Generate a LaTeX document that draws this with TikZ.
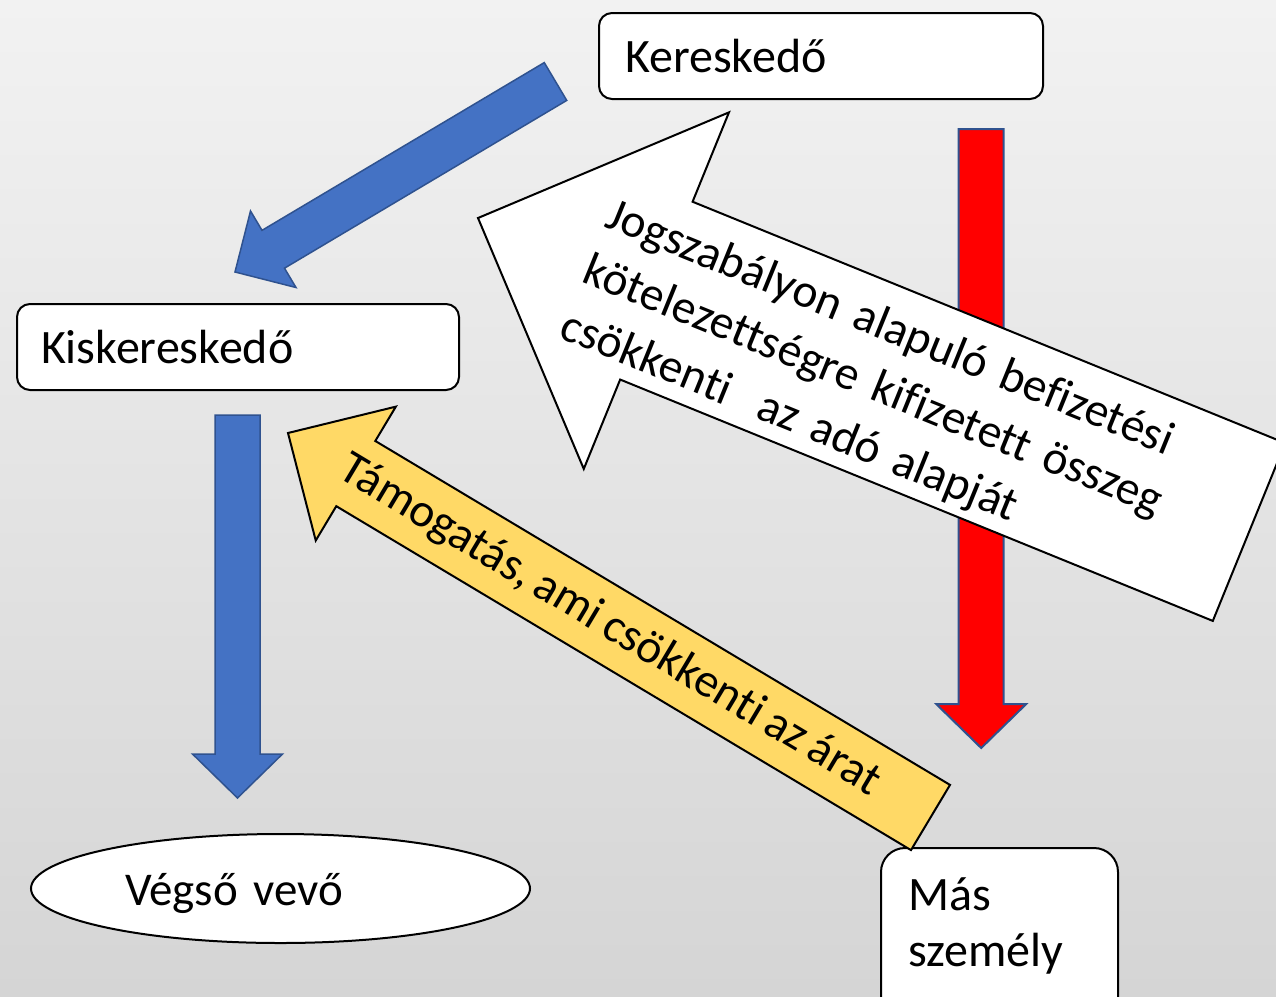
\documentclass[tikz,border=0pt]{standalone}
\usepackage{fontspec}
\setmainfont{Carlito}[Ligatures=NoCommon, WordSpace=0.8]
\usetikzlibrary{calc,shapes.geometric}

\definecolor{bgtop}{RGB}{242,242,242}
\definecolor{bgbot}{RGB}{213,213,213}
\definecolor{arrblue}{RGB}{68,114,196}
\definecolor{arredge}{RGB}{47,82,143}
\definecolor{arrred}{RGB}{255,0,0}
\definecolor{arryellow}{RGB}{255,217,102}

% Block arrow: #1 style, #2 tail centre, #3 tip, #4 half shaft width,
% #5 half head width, #6 head length
\newcommand\blockarrow[6]{%
  \coordinate (#3-base) at ($(#3)!#6!(#2)$);
  \path[#1] ($(#2)!#4!90:(#3)$) -- ($(#3-base)!#4!90:(#3)$)
    -- ($(#3-base)!#5!90:(#3)$) -- (#3)
    -- ($(#3-base)!#5!-90:(#3)$) -- ($(#3-base)!#4!-90:(#3)$)
    -- ($(#2)!#4!-90:(#3)$) -- cycle;
}

\tikzset{
  box/.style={draw=black, line width=2pt, fill=white, rounded corners=13pt,
    inner ysep=0pt, align=left, text height=32pt, text depth=0pt,
    font=\fontsize{48}{58}\selectfont},
  bluearrow/.style={fill=arrblue, draw=arredge, line width=1.5pt},
  redarrow/.style={fill=arrred, draw=arredge, line width=2pt},
  whitearrow/.style={fill=white, draw=black, line width=2pt},
  yellowarrow/.style={fill=arryellow, draw=black, line width=2pt},
  arrowtext/.style={inner sep=0pt, font=\fontsize{47.5}{60}\selectfont},
}

\begin{document}
\begin{tikzpicture}[x=1pt, y=-1pt]
  \useasboundingbox (0,0) rectangle (1276,996);
  \clip (0,0) rectangle (1276,996);
  \shade[top color=bgtop, bottom color=bgbot] (0,0) rectangle (1276,996);

  % parties
  \node[box, minimum width=444pt, minimum height=86pt, inner xsep=26pt,
        text width=392pt] (ker) at (821,56) {Kereskedő};
  \node[box, minimum width=442pt, minimum height=86pt, inner xsep=24pt,
        text width=394pt] (kisker) at (238,347) {Kiskereskedő};
  \node[ellipse, draw=black, line width=2pt, fill=white, inner sep=0pt,
        minimum width=499pt, minimum height=109pt, text width=311pt,
        align=left, text height=33pt, text depth=0pt,
        font=\fontsize{47}{56}\selectfont] (vevo) at (280.5,888.5) {Végső vevő};
  \node[box, rounded corners=24pt, minimum width=237pt, minimum height=180pt,
        anchor=north west] (mas) at (880,847) {};
  \node[anchor=base west, inner sep=0pt, text width=200pt, align=left,
        font=\fontsize{48}{56}\selectfont] (mastext) at (908,910) {Más\\személy};

  % flow arrows
  \coordinate (b1tail) at (555.5,81.5);
  \coordinate (b1tip)  at (235,272);
  \blockarrow{bluearrow}{b1tail}{b1tip}{22pt}{44.5pt}{44.5pt}

  \coordinate (b2tail) at (237.5,415);
  \coordinate (b2tip)  at (237.5,798);
  \blockarrow{bluearrow}{b2tail}{b2tip}{22.5pt}{45pt}{44pt}

  \coordinate (rtail) at (981.2,129);
  \coordinate (rtip)  at (981.2,748);
  \blockarrow{redarrow}{rtail}{rtip}{22.5pt}{45pt}{44pt}

  \coordinate (wtail) at (1249,532);
  \coordinate (wtip)  at (478,218);
  \blockarrow{whitearrow}{wtail}{wtip}{96pt}{192.5pt}{192.6pt}

  \coordinate (ytail) at (930.5,817.5);
  \coordinate (ytip)  at (288,433);
  \blockarrow{yellowarrow}{ytail}{ytip}{38pt}{78pt}{79pt}

  % texts on the arrows
  \node[arrowtext, rotate=-22.16, anchor=base west, text width=650pt,
        align=left] (wtext) at (603,226)
        {Jogszabályon alapuló befizetési\\kötelezettségre kifizetett összeg\\csökkenti\ \ az adó alapját};
  \node[arrowtext, rotate=-30.9] (ytext) at (610,626)
        {Támogatás, ami csökkenti az árat};
\end{tikzpicture}
\end{document}
